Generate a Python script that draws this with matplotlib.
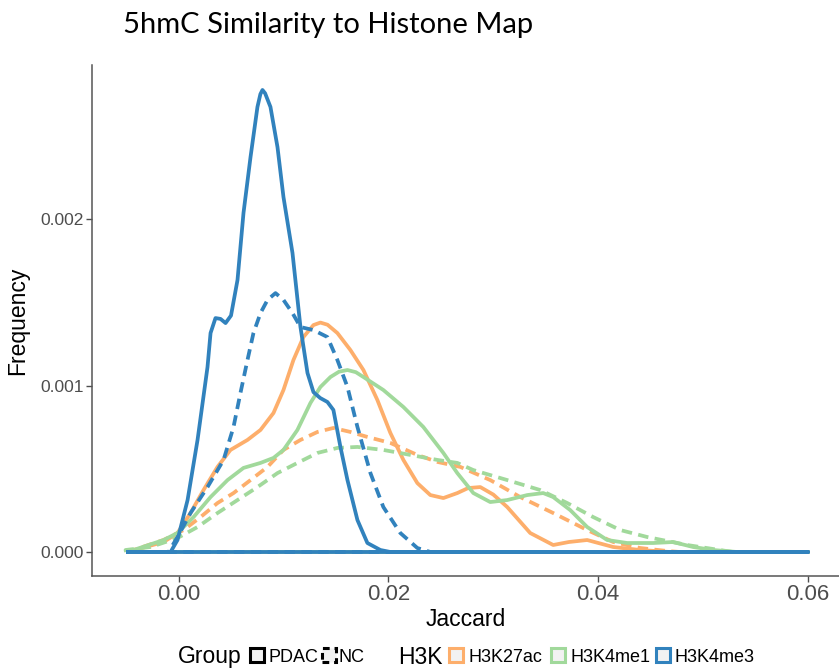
import matplotlib.pyplot as plt
from matplotlib.patches import Rectangle

# Jaccard grid edges used by the density estimate
x_lo = -0.005
x_hi = 0.06

# frequency values are read in units of 1e-3
k27_pdac_x = [-0.00486, -0.00143, -0.0001, 0.00114, 0.00238, 0.00371, 0.00495, 0.00657, 0.00781, 0.00905,
              0.0100, 0.01095, 0.0119, 0.01286, 0.01352, 0.01420, 0.01514, 0.01638, 0.01762, 0.01895, 0.02019,
              0.02143, 0.02276, 0.0240, 0.02524, 0.02657, 0.02760, 0.02876, 0.0300, 0.03133, 0.03352, 0.03571,
              0.03720, 0.03895, 0.04143, 0.0440, 0.04686]
k27_pdac_y = [0.0, 0.06, 0.114, 0.234, 0.372, 0.511, 0.613, 0.673, 0.733, 0.835,
              0.973, 1.153, 1.291, 1.363, 1.378, 1.365, 1.315, 1.213, 1.093, 0.913, 0.715,
              0.553, 0.414, 0.342, 0.324, 0.354, 0.384, 0.390, 0.345, 0.270, 0.114, 0.042,
              0.060, 0.072, 0.030, 0.012, 0.0]

k27_nc_x = [-0.00486, -0.00143, 0.00048, 0.0021, 0.00371, 0.00524, 0.00686, 0.00848, 0.0100, 0.01162,
            0.01324, 0.01476, 0.01638, 0.0180, 0.02019, 0.02276, 0.02467, 0.02686, 0.02971, 0.03257,
            0.03571, 0.03895, 0.04143, 0.0440, 0.04657, 0.04781]
k27_nc_y = [0.0, 0.072, 0.132, 0.210, 0.294, 0.354, 0.432, 0.511, 0.613, 0.673,
            0.721, 0.745, 0.721, 0.691, 0.655, 0.583, 0.541, 0.511, 0.432, 0.330,
            0.234, 0.132, 0.060, 0.024, 0.006, 0.0]

me1_pdac_x = [-0.00486, -0.00143, -0.0001, 0.00143, 0.00305, 0.00467, 0.00619, 0.00781, 0.00905, 0.0100,
              0.01133, 0.01257, 0.01352, 0.01448, 0.01530, 0.0161, 0.01690, 0.01762, 0.01952, 0.02143,
              0.02333, 0.02524, 0.02657, 0.0281, 0.02971, 0.03133, 0.03324, 0.03476, 0.03571, 0.03733,
              0.03895, 0.04086, 0.04276, 0.04524, 0.04714, 0.04905, 0.05095, 0.05324]
me1_pdac_y = [0.0, 0.072, 0.114, 0.210, 0.330, 0.432, 0.505, 0.535, 0.565, 0.613,
              0.733, 0.895, 0.991, 1.051, 1.083, 1.093, 1.080, 1.051, 0.973, 0.871,
              0.751, 0.595, 0.474, 0.354, 0.300, 0.312, 0.342, 0.354, 0.330, 0.252,
              0.150, 0.072, 0.054, 0.054, 0.060, 0.030, 0.012, 0.0]

me1_nc_x = [-0.00505, -0.00267, -0.0001, 0.00181, 0.00371, 0.00562, 0.00752, 0.00943, 0.01133, 0.01324,
            0.01514, 0.01705, 0.01952, 0.0221, 0.02467, 0.02657, 0.0281, 0.03133, 0.03448, 0.03705,
            0.03952, 0.0421, 0.04467, 0.04657, 0.04848, 0.05095, 0.05286]
me1_nc_y = [0.012, 0.030, 0.084, 0.150, 0.234, 0.312, 0.390, 0.474, 0.535, 0.595,
            0.625, 0.631, 0.613, 0.583, 0.553, 0.535, 0.492, 0.432, 0.372, 0.294,
            0.210, 0.132, 0.090, 0.066, 0.042, 0.018, 0.0]

me3_pdac_x = [-0.00076, -0.0001, 0.00086, 0.00181, 0.00276, 0.00305, 0.00352, 0.00400, 0.00448, 0.00500,
              0.00562, 0.00619, 0.00686, 0.00752, 0.00780, 0.0080, 0.00825, 0.00876, 0.00943, 0.0100,
              0.01086, 0.01162, 0.01229, 0.01286, 0.01350, 0.01419, 0.01476, 0.01543, 0.0161, 0.01705,
              0.0180, 0.01924, 0.02019]
me3_pdac_y = [0.0, 0.072, 0.312, 0.673, 1.111, 1.315, 1.405, 1.400, 1.375, 1.420,
              1.634, 2.036, 2.372, 2.673, 2.750, 2.775, 2.755, 2.673, 2.432, 2.132,
              1.796, 1.351, 1.075, 0.960, 0.925, 0.901, 0.853, 0.631, 0.432, 0.192,
              0.054, 0.012, 0.0]

me3_nc_x = [-0.00095, -0.0001, 0.00114, 0.00276, 0.00429, 0.00524, 0.0059, 0.00657, 0.00714, 0.00781,
            0.00848, 0.00924, 0.0100, 0.01086, 0.01162, 0.01286, 0.01419, 0.01514, 0.0161, 0.01705,
            0.01829, 0.01952, 0.02114, 0.02276, 0.0240]
me3_nc_y = [0.0, 0.090, 0.234, 0.390, 0.553, 0.751, 0.955, 1.153, 1.315, 1.435,
            1.514, 1.555, 1.514, 1.435, 1.351, 1.333, 1.291, 1.153, 0.991, 0.751,
            0.474, 0.270, 0.114, 0.024, 0.0]

series = [
    (k27_pdac_x, k27_pdac_y, 'H3K27ac', 'PDAC'),
    (k27_nc_x, k27_nc_y, 'H3K27ac', 'NC'),
    (me1_pdac_x, me1_pdac_y, 'H3K4me1', 'PDAC'),
    (me1_nc_x, me1_nc_y, 'H3K4me1', 'NC'),
    (me3_pdac_x, me3_pdac_y, 'H3K4me3', 'PDAC'),
    (me3_nc_x, me3_nc_y, 'H3K4me3', 'NC'),
]
colors = {'H3K27ac': '#FDAE6B', 'H3K4me1': '#A1D99B', 'H3K4me3': '#3182BD'}
W, H = 839, 672

plt.rcParams['font.family'] = ['Liberation Sans', 'DejaVu Sans']
fig = plt.figure(figsize=(W / 100, H / 100), dpi=100)
ax = fig.add_axes([92 / W, (H - 576) / H, (W - 92) / W, (576 - 65) / H])

lw = 2.7
for xs, ys, h, g in series:
    px = [x_lo] + xs + [x_hi, x_lo]
    py = [0.0] + [v * 1e-3 for v in ys] + [0.0, 0.0]
    line, = ax.plot(px, py, color=colors[h], lw=lw, solid_joinstyle='round',
                    solid_capstyle='butt', dash_joinstyle='round')
    if g == 'NC':
        line.set_linestyle((0, (2.8, 1.7)))

ax.set_xlim(-0.00825, (W - 178) / 10500)
ax.set_ylim(-(576 - 552) / 166500, (552 - 65) / 166500)
ax.set_xticks([0.0, 0.02, 0.04, 0.06])
ax.set_xticklabels(['0.00', '0.02', '0.04', '0.06'])
ax.set_yticks([0.0, 0.001, 0.002])
ax.set_yticklabels(['0.000', '0.001', '0.002'])
ax.tick_params(axis='x', labelsize=16, colors='#4D4D4D', length=4, width=1, pad=2)
ax.tick_params(axis='y', labelsize=12.5, colors='#4D4D4D', length=4, width=1, pad=2)
for s in ['top', 'right']:
    ax.spines[s].set_visible(False)
for s in ['left', 'bottom']:
    ax.spines[s].set_color('#555555')
    ax.spines[s].set_linewidth(1.1)
ax.set_xlabel('Jaccard', fontsize=16.5, labelpad=2)
ax.set_ylabel('Frequency', fontsize=16.5, labelpad=8)

fig.text(123 / W, 1 - 25 / H, '5hmC Similarity to Histone Map', fontsize=21,
         family=['Lato', 'DejaVu Sans'], va='center', ha='left')

# legend drawn along the bottom
def fx(x):
    return x / W

ly = 1 - 657 / H
fig.text(fx(178), ly, 'Group', fontsize=16.5, va='center', ha='left')
fig.text(fx(398), ly, 'H3K', fontsize=16.5, va='center', ha='left')
keys = [
    (250, 'PDAC', 268, '#000000', '-'),
    (322, 'NC', 338, '#000000', (0, (2.2, 1.6))),
    (449, 'H3K27ac', 468, colors['H3K27ac'], '-'),
    (551, 'H3K4me1', 570, colors['H3K4me1'], '-'),
    (656, 'H3K4me3', 675, colors['H3K4me3'], '-'),
]
for bx, label, tx, c, ls in keys:
    fig.add_artist(Rectangle((fx(bx), 1 - 662 / H), 14 / W, 14 / H, transform=fig.transFigure,
                             facecolor='#F2F2F2', edgecolor=c, lw=2.2, linestyle=ls))
    fig.text(fx(tx), ly, label, fontsize=13, va='center', ha='left')

fig.savefig('out.png', dpi=100)
